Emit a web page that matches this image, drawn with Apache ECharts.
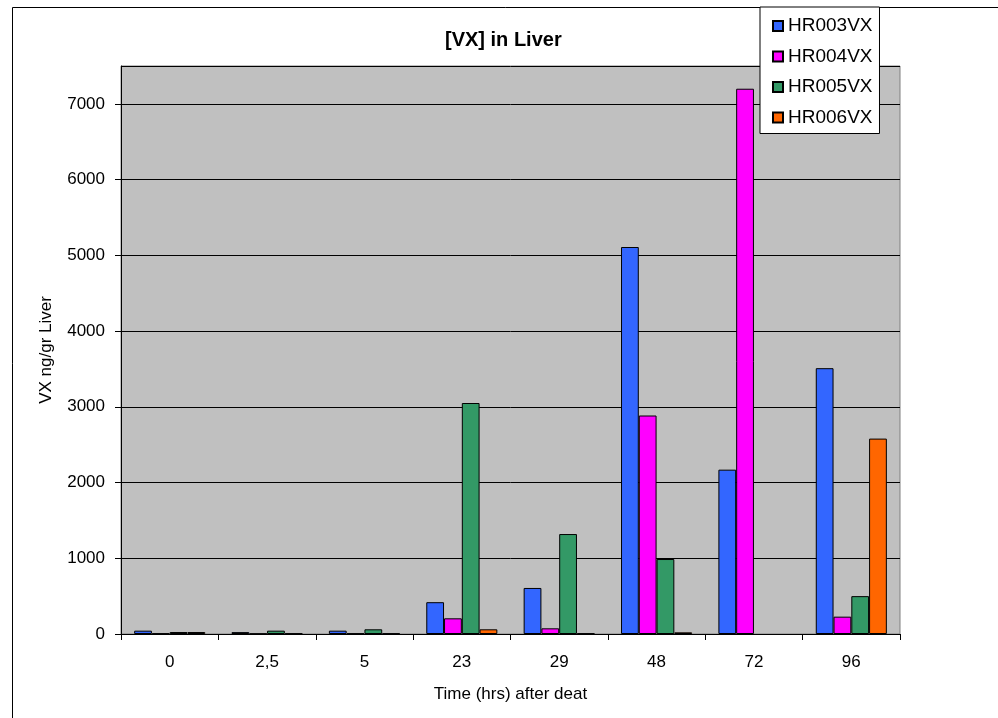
<!DOCTYPE html>
<html>
<head>
<meta charset="utf-8">
<script src="https://cdn.jsdelivr.net/npm/echarts@6/dist/echarts.min.js"></script>
<style>html,body{margin:0;padding:0;background:#fff;}#c{width:998px;height:718px;}</style>
</head>
<body>
<div id="c"></div>
<script>
const categories = ['0', '2,5', '5', '23', '29', '48', '72', '96'];
const hr003 = [44, 25, 44, 420, 608, 5110, 2170, 3510];
const hr004 = [8, 5, 8, 207, 75, 2885, 7200, 229];
const hr005 = [26, 44, 62, 3050, 1320, 990, null, 500];
const hr006 = [26, 8, 8, 62, 8, 22, null, 2580];
const yTicks = [0, 1000, 2000, 3000, 4000, 5000, 6000, 7000];

const font = 'Liberation Sans, Arial, sans-serif';
const chart = echarts.init(document.getElementById('c'));
function bar(name, data, color) {
  return {
    name: name, type: 'bar', data: data,
    barGap: '0%', barCategoryGap: '27%',
    itemStyle: { color: color, borderColor: '#000', borderWidth: 1 },
    animation: false
  };
}
chart.setOption({
  animation: false,
  textStyle: { fontFamily: font },
  title: {
    text: '[VX] in Liver', left: 445, top: 30, padding: 0,
    textStyle: { fontFamily: font, fontSize: 20, fontWeight: 'bold', color: '#000' }
  },
  legend: {
    orient: 'vertical', left: 760, top: 7,
    backgroundColor: '#fff', borderColor: '#000', borderWidth: 1,
    padding: [9, 7, 6, 12],
    itemWidth: 10, itemHeight: 10, itemGap: 10.5, itemTextGap: 8,
    icon: 'rect',
    textStyle: { fontFamily: font, fontSize: 19, lineHeight: 20, color: '#000' },
    z: 10
  },
  graphic: [{
    type: 'rect', z: -10, silent: true,
    shape: { x: 12.5, y: 7.5, width: 1100, height: 1000 },
    style: { fill: 'none', stroke: '#000', lineWidth: 1 }
  }],
  grid: {
    left: 121, right: 98, top: 66, bottom: 84,
    show: true, backgroundColor: '#c0c0c0', borderColor: '#808080', borderWidth: 1
  },
  xAxis: {
    type: 'category', data: categories,
    name: 'Time (hrs) after deat', nameLocation: 'middle', nameGap: 52,
    nameTextStyle: { fontFamily: font, fontSize: 17, color: '#000' },
    axisLine: { lineStyle: { color: '#000', width: 1 } },
    axisTick: { show: true, length: 6, alignWithLabel: false, lineStyle: { color: '#000' } },
    axisLabel: { fontFamily: font, fontSize: 17, color: '#000', margin: 20, interval: 0 },
    splitLine: { show: false }
  },
  yAxis: {
    type: 'value', min: 0, max: 7500, interval: 1000,
    name: 'VX ng/gr Liver', nameLocation: 'middle', nameGap: 66, nameRotate: 90,
    nameTextStyle: { fontFamily: font, fontSize: 17, color: '#000' },
    axisLine: { show: true, lineStyle: { color: '#000', width: 1 } },
    axisTick: { show: true, length: 6, lineStyle: { color: '#000' } },
    axisLabel: {
      fontFamily: font, fontSize: 17, color: '#000', margin: 16, showMaxLabel: false,
      formatter: function (v) { return yTicks.indexOf(v) >= 0 ? String(v) : ''; }
    },
    splitLine: { show: true, lineStyle: { color: '#000', width: 1 } }
  },
  series: [
    bar('HR003VX', hr003, '#3366ff'),
    bar('HR004VX', hr004, '#ff00ff'),
    bar('HR005VX', hr005, '#339966'),
    bar('HR006VX', hr006, '#ff6600')
  ]
});
</script>
</body>
</html>
